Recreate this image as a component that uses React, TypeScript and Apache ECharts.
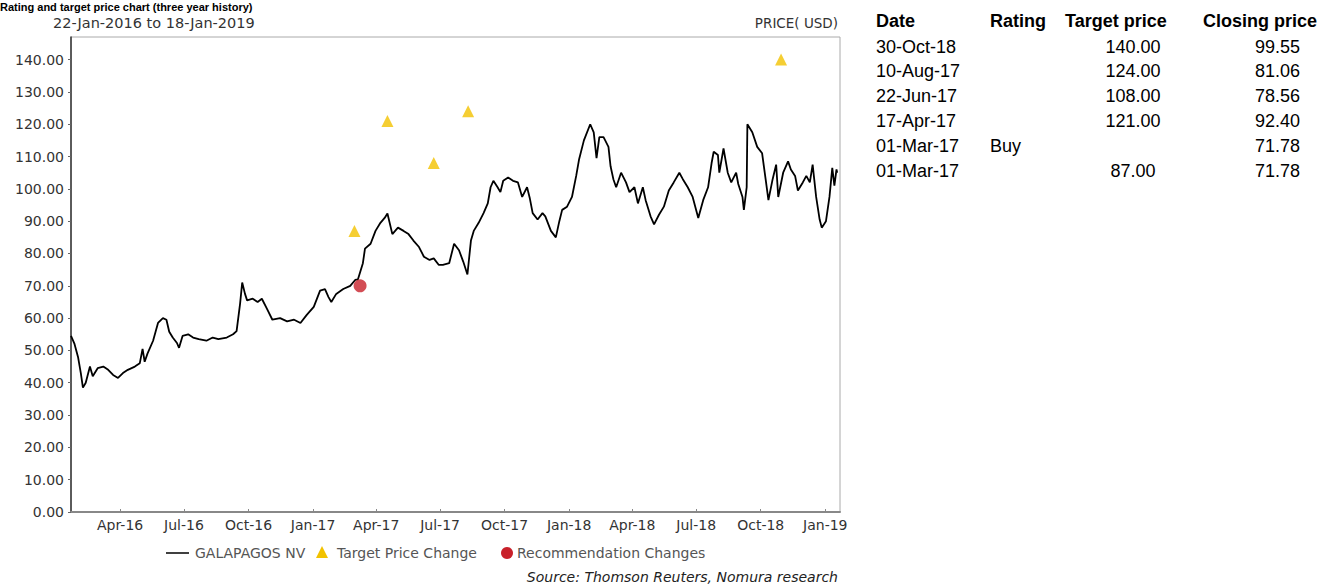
import React, { useEffect, useRef } from "react";
import * as echarts from "echarts";

// ---- Data ----
const priceDates = [
  "2016-01-22","2016-01-27","2016-02-01","2016-02-05","2016-02-08","2016-02-12","2016-02-18","2016-02-22","2016-02-29",
  "2016-03-08","2016-03-15","2016-03-22","2016-03-29","2016-04-05","2016-04-12","2016-04-22","2016-04-29","2016-05-03",
  "2016-05-06","2016-05-10","2016-05-18","2016-05-25","2016-06-01","2016-06-06","2016-06-10","2016-06-15","2016-06-21",
  "2016-06-24","2016-06-29","2016-07-07","2016-07-14","2016-07-22","2016-08-02","2016-08-11","2016-08-19","2016-08-31",
  "2016-09-09","2016-09-14","2016-09-19","2016-09-22","2016-09-26","2016-09-29","2016-10-07","2016-10-14","2016-10-20",
  "2016-10-27","2016-11-04","2016-11-15","2016-11-25","2016-12-05","2016-12-14","2016-12-23","2017-01-02","2017-01-11",
  "2017-01-18","2017-01-23","2017-01-27","2017-02-03","2017-02-13","2017-02-23","2017-03-02","2017-03-06","2017-03-13",
  "2017-03-16","2017-03-24","2017-03-31","2017-04-07","2017-04-13","2017-04-17","2017-04-24","2017-05-02","2017-05-10",
  "2017-05-17","2017-05-24","2017-06-01","2017-06-08","2017-06-16","2017-06-22","2017-06-29","2017-07-05","2017-07-14",
  "2017-07-21","2017-07-28","2017-08-03","2017-08-09","2017-08-14","2017-08-18","2017-08-25","2017-09-01","2017-09-07",
  "2017-09-11","2017-09-15","2017-09-21","2017-09-25","2017-09-29","2017-10-06","2017-10-13","2017-10-20","2017-10-26",
  "2017-11-02","2017-11-06","2017-11-10","2017-11-17","2017-11-24","2017-11-28","2017-12-06","2017-12-13","2017-12-18",
  "2017-12-22","2017-12-29","2018-01-05","2018-01-11","2018-01-15","2018-01-22","2018-01-31","2018-02-05","2018-02-09",
  "2018-02-13","2018-02-19","2018-02-26","2018-03-01","2018-03-05","2018-03-09","2018-03-16","2018-03-23","2018-03-28",
  "2018-04-04","2018-04-09","2018-04-16","2018-04-20","2018-04-27","2018-05-02","2018-05-09","2018-05-16","2018-05-23",
  "2018-05-30","2018-06-07","2018-06-12","2018-06-19","2018-06-26","2018-07-04","2018-07-11","2018-07-18","2018-07-23",
  "2018-07-26","2018-08-01","2018-08-03","2018-08-09","2018-08-15","2018-08-20","2018-08-27","2018-08-30","2018-09-05",
  "2018-09-07","2018-09-11","2018-09-12","2018-09-19","2018-09-26","2018-10-03","2018-10-08","2018-10-12","2018-10-18",
  "2018-10-23","2018-10-26","2018-11-02","2018-11-09","2018-11-13","2018-11-19","2018-11-23","2018-11-30","2018-12-05",
  "2018-12-10","2018-12-14","2018-12-19","2018-12-24","2018-12-27","2019-01-02","2019-01-07","2019-01-11","2019-01-14",
  "2019-01-17","2019-01-18"
];
const priceValues = [
  54.5,52,48,43,38.5,40,45,42,44.5,
  45,44,42.4,41.5,43,44,45,46,50.5,
  46.5,49,53,58.5,60,59.5,55.8,54,52.3,
  50.8,54.5,55,54,53.5,53,54,53.5,54,
  55,56,64.5,71,67.5,65.5,66,65,66,
  63,59.5,60,59,59.5,58.5,61,63.5,68.5,
  69,66.5,65,67.5,69,70,71.8,72,77,
  81.5,83,87,89.5,91,92.4,86,88,87,
  86,84,82,79,78,78.5,76.5,76.5,77,
  83,81,77.5,73.5,84,87,89.5,92.5,95.5,
  100.5,102.5,100.5,99,102.5,103.5,102.5,102,97.5,
  100.5,97,92.5,90.5,92.5,91.5,87,85,90,
  93.5,94.5,97.5,104,109,115,120,117.5,109.5,
  116,116,113,107,103,100.5,105,102,99,
  100.5,95.5,100.5,96.5,91.5,89,92,94.5,99.5,
  102,105,103,100.5,97.5,91,96.5,100.5,108,
  111.5,110.5,105,112.5,105,102,105,101.5,97.5,
  93.5,100.5,120,117.5,113,111,103,96.5,103,
  107.5,97.5,105,108.5,106,104,99.5,102,104,
  102,107.5,97.5,90.5,88,90,97.5,106.5,101,
  106,105
];

const targetDates = ["2017-03-01", "2017-04-17", "2017-06-22", "2017-08-10", "2018-10-30"];
const targetValues = [87, 121, 108, 124, 140];

const recDates = ["2017-03-09"];
const recValues = [70];

const xTickDates = [
  "2016-04-01","2016-07-01","2016-10-01","2017-01-01","2017-04-01","2017-07-01",
  "2017-10-01","2018-01-01","2018-04-01","2018-07-01","2018-10-01","2019-01-01"
];

const tableHeaders = ["Date", "Rating", "Target price", "Closing price"];
const tableDates = ["30-Oct-18", "10-Aug-17", "22-Jun-17", "17-Apr-17", "01-Mar-17", "01-Mar-17"];
const tableRatings = ["", "", "", "", "Buy", ""];
const tableTargets = ["140.00", "124.00", "108.00", "121.00", "", "87.00"];
const tableClosing = ["99.55", "81.06", "78.56", "92.40", "71.78", "71.78"];

const MONTHS = ["Jan","Feb","Mar","Apr","May","Jun","Jul","Aug","Sep","Oct","Nov","Dec"];

function parseLocal(s: string): number {
  const [y, m, d] = s.split("-").map(Number);
  return new Date(y, m - 1, d).getTime();
}

const FONT = "DejaVu Sans";
const TFONT = "Liberation Sans, Arial, sans-serif";

export default function App() {
  const ref = useRef<HTMLDivElement>(null);

  useEffect(() => {
    if (!ref.current) return;
    const chart = echarts.init(ref.current, undefined, { renderer: "svg" });

    const graphics: any[] = [];
    graphics.push({
      type: "text", x: 0, y: 1,
      style: { text: "Rating and target price chart (three year history)", fill: "#000",
        font: `bold 11px ${TFONT}`, align: "left", verticalAlign: "top" }
    });
    graphics.push({
      type: "text", x: 53, y: 23,
      style: { text: "22-Jan-2016 to 18-Jan-2019", fill: "#333", font: `14.5px ${FONT}`,
        align: "left", verticalAlign: "middle" }
    });
    graphics.push({
      type: "text", x: 838, y: 23,
      style: { text: "PRICE( USD)", fill: "#333", font: `13.5px ${FONT}`,
        align: "right", verticalAlign: "middle" }
    });
    graphics.push({ type: "line", shape: { x1: 166, y1: 553, x2: 189, y2: 553 }, style: { stroke: "#000", lineWidth: 1.5 } });
    graphics.push({ type: "text", x: 195, y: 553, style: { text: "GALAPAGOS NV", fill: "#555", font: `14px ${FONT}`, align: "left", verticalAlign: "middle" } });
    graphics.push({ type: "polygon", shape: { points: [[322, 546], [316, 558], [328, 558]] }, style: { fill: "#f2c200" } });
    graphics.push({ type: "text", x: 337, y: 553, style: { text: "Target Price Change", fill: "#555", font: `14px ${FONT}`, align: "left", verticalAlign: "middle" } });
    graphics.push({ type: "circle", shape: { cx: 507, cy: 553, r: 6 }, style: { fill: "#c8202a" } });
    graphics.push({ type: "text", x: 517, y: 553, style: { text: "Recommendation Changes", fill: "#555", font: `14px ${FONT}`, align: "left", verticalAlign: "middle" } });
    graphics.push({ type: "text", x: 838, y: 577, style: { text: "Source: Thomson Reuters, Nomura research", fill: "#222", font: `italic 14px ${FONT}`, align: "right", verticalAlign: "middle" } });

    const colX = [876, 990, 1065, 1203];
    tableHeaders.forEach((h, i) => {
      graphics.push({ type: "text", x: colX[i], y: 21, style: { text: h, fill: "#000", font: `bold 18px ${TFONT}`, align: "left", verticalAlign: "middle" } });
    });
    const rowY0 = 46.5, rowH = 24.9;
    tableDates.forEach((d, r) => {
      const y = rowY0 + r * rowH;
      graphics.push({ type: "text", x: 876, y, style: { text: d, fill: "#000", font: `18px ${TFONT}`, align: "left", verticalAlign: "middle" } });
      if (tableRatings[r]) graphics.push({ type: "text", x: 990, y, style: { text: tableRatings[r], fill: "#000", font: `18px ${TFONT}`, align: "left", verticalAlign: "middle" } });
      if (tableTargets[r]) graphics.push({ type: "text", x: 1133, y, style: { text: tableTargets[r], fill: "#000", font: `18px ${TFONT}`, align: "center", verticalAlign: "middle" } });
      graphics.push({ type: "text", x: 1300, y, style: { text: tableClosing[r], fill: "#000", font: `18px ${TFONT}`, align: "right", verticalAlign: "middle" } });
    });

    const tickVals = xTickDates.map(parseLocal);

    chart.setOption({
      animation: false,
      backgroundColor: "#fff",
      grid: { left: 71, right: 480, top: 37, bottom: 74, show: true, borderColor: "#aaa", borderWidth: 1, backgroundColor: "transparent" },
      xAxis: {
        type: "value",
        min: parseLocal("2016-01-22"),
        max: parseLocal("2019-01-22"),
        axisLine: { show: true, lineStyle: { color: "#888", width: 2 } },
        axisTick: { show: true, inside: true, length: 3, lineStyle: { color: "#888" }, customValues: tickVals },
        axisLabel: {
          customValues: tickVals,
          color: "#333",
          fontFamily: FONT,
          fontSize: 14,
          margin: 6,
          formatter: (v: number) => {
            const d = new Date(v);
            return MONTHS[d.getMonth()] + "-" + String(d.getFullYear()).slice(2);
          }
        },
        splitLine: { show: false }
      },
      yAxis: {
        type: "value",
        min: 0,
        max: 147,
        interval: 10,
        axisLine: { show: true, lineStyle: { color: "#333", width: 1.5 } },
        axisTick: { show: true, length: 3, lineStyle: { color: "#666" } },
        axisLabel: {
          color: "#333",
          fontFamily: FONT,
          fontSize: 14,
          margin: 7,
          showMaxLabel: false,
          formatter: (v: number) => (v % 10 === 0 ? v.toFixed(2) : "")
        },
        splitLine: { show: false }
      },
      series: [
        {
          name: "GALAPAGOS NV",
          type: "line",
          data: priceDates.map((d, i) => [parseLocal(d), priceValues[i]]),
          showSymbol: false,
          lineStyle: { color: "#000", width: 1.8 },
          itemStyle: { color: "#000" },
          z: 2
        },
        {
          name: "Target Price Change",
          type: "scatter",
          data: targetDates.map((d, i) => [parseLocal(d), targetValues[i]]),
          symbol: "triangle",
          symbolSize: 12,
          itemStyle: { color: "#f2c200" },
          z: 3
        },
        {
          name: "Recommendation Changes",
          type: "scatter",
          data: recDates.map((d, i) => [parseLocal(d), recValues[i]]),
          symbol: "circle",
          symbolSize: 13,
          itemStyle: { color: "#c8202a" },
          z: 4
        }
      ],
      graphic: graphics
    });

    return () => chart.dispose();
  }, []);

  return <div ref={ref} style={{ position: "absolute", left: 0, top: 0, width: 1320, height: 586 }} />;
}
